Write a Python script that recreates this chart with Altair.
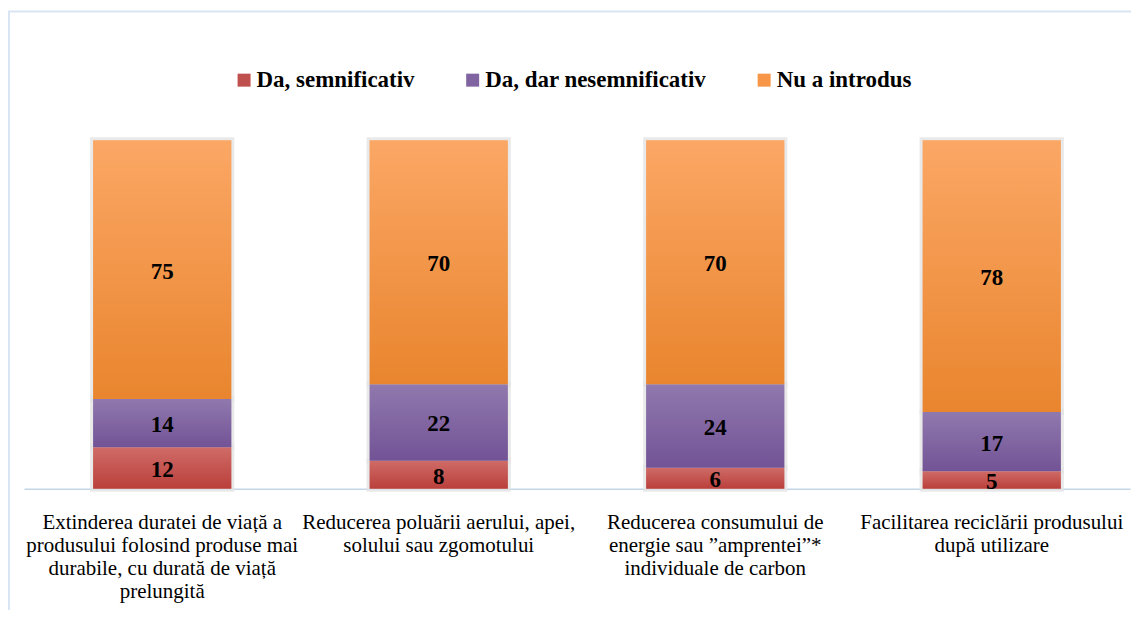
import altair as alt
import pandas as pd

categories = [
    "Extinderea duratei de viață a|produsului folosind produse mai|durabile, cu durată de viață|prelungită",
    "Reducerea poluării aerului, apei,|solului sau zgomotului",
    "Reducerea consumului de|energie sau ”amprentei”*|individuale de carbon",
    "Facilitarea reciclării produsului|după utilizare",
]
series = ["Da, semnificativ", "Da, dar nesemnificativ", "Nu a introdus"]
sig = [12, 8, 6, 5]
nonsig = [14, 22, 24, 17]
notintro = [75, 70, 70, 78]

legend_colors = ["#C0504D", "#8064A2", "#F79646"]
grad_top = ["#CF6B67", "#9079AE", "#FBA765"]
grad_bottom = ["#BA3F3B", "#725396", "#E9852E"]

rows = []
for i, c in enumerate(categories):
    for j, (s, vals) in enumerate(zip(series, [sig, nonsig, notintro])):
        rows.append({"cat": c, "series": s, "ord": j, "val": vals[i]})
df = pd.DataFrame(rows)

FONT = "'Times New Roman', 'Liberation Serif', serif"

x_enc = alt.X(
    "cat:N",
    sort=categories,
    scale=alt.Scale(paddingInner=0.5, paddingOuter=0.25),
    axis=alt.Axis(
        title=None,
        labelAngle=0,
        ticks=False,
        domainColor="#C5D5E8",
        domainWidth=1.5,
        labelFont=FONT,
        labelFontSize=21,
        labelColor="#000000",
        labelLineHeight=23,
        labelBaseline="alphabetic",
        labelPadding=40,
        labelLimit=0,
        labelOverlap=False,
        labelExpr="split(datum.label, '|')",
    ),
)
y_scale = alt.Scale(domain=[0, 1], nice=False)

base = alt.Chart(df).transform_stack(
    stack="val",
    as_=["y0", "y1"],
    groupby=["cat"],
    offset="normalize",
    sort=[alt.SortField("ord", order="ascending")],
)

bars = base.mark_bar(stroke="#E4E4E4", strokeWidth=6, strokeOpacity=0.8).encode(
    x=x_enc,
    y=alt.Y("y0:Q", scale=y_scale, axis=None),
    y2="y1:Q",
    color=alt.Color(
        "series:N",
        sort=series,
        scale=alt.Scale(domain=series, range=legend_colors),
        legend=alt.Legend(
            title=None,
            orient="none",
            direction="horizontal",
            legendX=209,
            legendY=-72,
            symbolType="square",
            symbolSize=169,
            symbolStrokeWidth=0,
            labelFont=FONT,
            labelFontSize=23,
            labelFontWeight="bold",
            labelColor="#000000",
            labelOffset=1,
            columnPadding=46,
            padding=0,
            labelLimit=0,
        ),
    ),
)

grad_layers = []
for s, top, bot in zip(series, grad_top, grad_bottom):
    g = alt.Gradient(
        gradient="linear",
        stops=[alt.GradientStop(color=top, offset=0), alt.GradientStop(color=bot, offset=1)],
        x1=0, x2=0, y1=0, y2=1,
    )
    grad_layers.append(
        base.transform_filter(alt.datum.series == s).mark_bar(fill=g).encode(
            x=x_enc,
            y=alt.Y("y0:Q", scale=y_scale, axis=None),
            y2="y1:Q",
        )
    )

labels = base.transform_calculate(mid="(datum.y0 + datum.y1) / 2").mark_text(
    font=FONT, fontSize=23, fontWeight="bold", color="#000000", baseline="middle", dy=2
).encode(
    x=x_enc,
    y=alt.Y("mid:Q", scale=y_scale, axis=None),
    text="val:Q",
)

frame = alt.Chart(pd.DataFrame({"k": [0]})).mark_rect(
    fill="#FFFFFF", fillOpacity=0, stroke="#DAE5F3", strokeWidth=2
).encode(
    x=alt.value(-15), x2=alt.value(1300), y=alt.value(-129), y2=alt.value(800)
)

chart = alt.layer(frame, bars, *grad_layers, labels).properties(
    width=1108,
    height=349,
    autosize=alt.AutoSizeParams(type="none"),
    padding={"left": 16, "top": 132, "right": 1, "bottom": 121},
).configure_view(stroke=None).configure_axis(grid=False)

chart.save("out.html", embed_options={"renderer": "svg", "actions": False})
